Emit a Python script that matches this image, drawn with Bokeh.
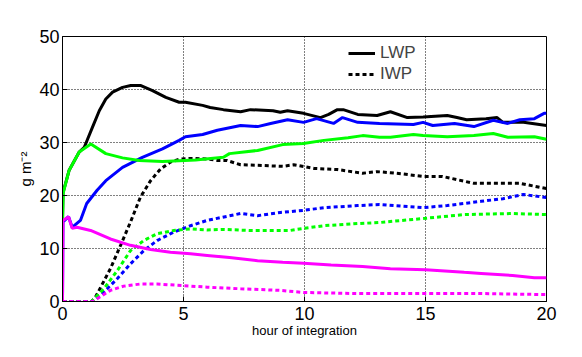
from bokeh.plotting import figure
from bokeh.models import Range1d, FixedTicker, Legend
from bokeh.embed import file_html
from bokeh.resources import INLINE

# ---- data (hours, g m^-2) ----
black_lwp_h = [0, 0.02, 0.27, 0.69, 0.9, 1.24, 1.52, 1.79, 2.07, 2.48, 2.82, 3.24, 3.72, 4.27, 4.82, 5.08, 5.79,
               6.1, 6.65, 7.36, 7.77, 8.7, 9.0, 9.3, 9.96, 10.66, 11.0, 11.36, 11.6, 12.2, 13.0, 13.55,
               14.25, 14.9, 15.9, 16.3, 16.7, 17.5, 17.96, 18.2, 19.05, 20]
black_lwp = [15, 20.5, 24.7, 28.2, 29.1, 32.9, 36.0, 38.2, 39.5, 40.4, 40.75, 40.75, 39.8, 38.5, 37.6, 37.6, 37.0,
             36.6, 36.2, 35.8, 36.2, 36.0, 35.7, 36.0, 35.5, 34.7, 35.3, 36.2, 36.2, 35.3, 35.1, 35.8,
             34.7, 34.8, 35.1, 34.7, 34.3, 34.5, 34.7, 33.8, 33.8, 33.2]

blue_lwp_h = [0, 0.02, 0.25, 0.4, 0.74, 1.0, 1.43, 1.79, 2.48, 3.3, 4.13, 4.82, 5.08, 5.79, 6.4, 7.36,
              8.06, 8.6, 9.3, 9.96, 10.5, 11.2, 11.57, 12.2, 13.1, 14.5, 14.9, 15.3, 16.2, 17.0, 17.8,
              18.4, 18.9, 19.5, 19.9, 20]
blue_lwp = [0, 15, 16, 14, 15.3, 18.5, 21, 22.8, 25.3, 27.2, 28.8, 30.4, 31.1, 31.5, 32.3, 33.2,
            33, 33.6, 34.3, 33.8, 34.5, 33.6, 34.7, 33.8, 33.6, 33.4, 33.8, 33.2, 33.6, 33, 34.2,
            33.6, 34.3, 34.5, 35.5, 35.5]

green_lwp_h = [0, 0.03, 0.27, 0.69, 1.17, 1.79, 2.48, 3.17, 4.13, 5.5, 6.65, 6.9, 8.06,
               9.1, 9.96, 10.8, 11.8, 12.4, 13.1, 13.55, 14.5, 14.9, 15.9, 17.0, 17.8, 18.4, 19.5, 20]
green_lwp = [15, 20.5, 24.7, 28.2, 29.7, 27.9, 27.1, 26.6, 26.4, 26.7, 27.2, 27.9, 28.5,
             29.6, 29.8, 30.4, 30.9, 31.3, 31.0, 31.0, 31.5, 31.3, 31.1, 31.3, 31.7, 31.0, 31.1, 30.6]

magenta_lwp_h = [0, 0.02, 0.25, 0.4, 0.6, 1.16, 1.98, 2.81, 3.64, 4.46, 5.29, 5.98, 6.9, 8.06, 9.1,
                 9.96, 11.1, 12.4, 13.55, 15.0, 16.6, 17.3, 18.6, 19.5, 20]
magenta_lwp = [0, 15.3, 16, 13.8, 14, 13.4, 11.8, 10.6, 9.8, 9.3, 9.0, 8.7, 8.3, 7.7, 7.4,
               7.2, 6.9, 6.6, 6.2, 6.0, 5.5, 5.3, 4.9, 4.5, 4.5]

black_iwp_h = [0, 1.2, 1.36, 1.98, 2.4, 2.81, 3.22, 3.64, 4.05, 4.46, 4.88, 5.3, 6.0, 6.4, 6.8, 7.36, 8.06,
               9.1, 9.55, 10.4, 11.36, 12.4, 13.0, 13.55, 14.0, 14.9, 15.7, 17.0, 18.0, 18.9, 20]
black_iwp = [0, 0, 0.8, 6.2, 10.6, 15.0, 19.7, 22.8, 25.0, 26.3, 26.9, 27.0, 26.9, 26.6, 26.6, 25.8, 25.7,
             25.5, 25.8, 25.1, 24.9, 24.2, 24.5, 24.3, 24.1, 23.6, 23.6, 22.3, 22.3, 22.3, 21.3]

blue_iwp_h = [0, 1.25, 1.71, 2.26, 2.81, 3.36, 3.91, 4.6, 5.29, 5.98, 7.36, 8.06, 9.0, 9.96,
              10.8, 12.2, 13.1, 14.9, 15.9, 17.3, 18.2, 19.05, 20]
blue_iwp = [0, 0, 1.8, 4.3, 7.1, 9.6, 11.5, 13.1, 14.3, 15.3, 16.6, 16.2, 16.8, 17.2,
            17.7, 18.1, 18.3, 17.7, 18.1, 18.9, 19.4, 20.2, 19.6]

green_iwp_h = [0, 1.2, 1.71, 2.26, 2.81, 3.36, 3.91, 4.6, 5.29, 5.98, 6.65, 7.77, 9.4, 9.96, 10.8,
               12.2, 13.1, 15.0, 16.6, 18.6, 20]
green_iwp = [0, 0, 2.4, 5.8, 9.6, 11.5, 12.8, 13.4, 13.7, 13.5, 13.6, 13.4, 13.4, 13.8, 14.3,
             14.7, 14.9, 15.7, 16.4, 16.6, 16.4]

magenta_iwp_h = [0, 1.25, 1.98, 2.53, 3.22, 3.91, 5.0, 5.98, 7.36, 9.0, 9.96, 12.2, 15.0, 17.3, 20]
magenta_iwp = [0, 0, 2.1, 2.9, 3.3, 3.3, 3.0, 2.7, 2.4, 2.1, 1.7, 1.5, 1.5, 1.5, 1.3]

x_ticks = [0, 5, 10, 15, 20]
y_ticks = [0, 10, 20, 30, 40, 50]

FONT = "Liberation Sans"
LW = 3
DASH = "4 3"

p = figure(width=582, height=357, output_backend="svg", toolbar_location=None,
           x_range=Range1d(0, 20), y_range=Range1d(0, 50),
           min_border_left=62, min_border_right=36, min_border_top=36, min_border_bottom=56)
p.background_fill_color = "white"
p.border_fill_color = "white"
p.outline_line_color = "black"
p.outline_line_width = 1
p.outline_line_alpha = 1

r_lwp = p.line(black_lwp_h, black_lwp, line_color="black", line_width=LW)
r_iwp = p.line(black_iwp_h, black_iwp, line_color="black", line_width=LW, line_dash=DASH)
p.line(blue_lwp_h, blue_lwp, line_color="#0000ff", line_width=LW)
p.line(green_lwp_h, green_lwp, line_color="#00ff00", line_width=LW)
p.line(blue_iwp_h, blue_iwp, line_color="#0000ff", line_width=LW, line_dash=DASH)
p.line(green_iwp_h, green_iwp, line_color="#00ff00", line_width=LW, line_dash=DASH)
p.line(magenta_lwp_h, magenta_lwp, line_color="#ff00ff", line_width=LW)
p.line(magenta_iwp_h, magenta_iwp, line_color="#ff00ff", line_width=LW, line_dash=DASH)

p.xaxis.ticker = FixedTicker(ticks=x_ticks)
p.yaxis.ticker = FixedTicker(ticks=y_ticks)
for ax in (p.xaxis, p.yaxis):
    ax.major_label_text_font = FONT
    ax.major_label_text_font_size = "18px"
    ax.major_label_text_color = "black"
    ax.axis_line_color = "black"
    ax.major_tick_line_color = "black"
    ax.major_tick_in = 5
    ax.major_tick_out = 0
    ax.minor_tick_line_color = None
    ax.axis_label_text_font = FONT
    ax.axis_label_text_font_style = "normal"
    ax.axis_label_text_color = "black"
p.xaxis.axis_label = "hour of integration"
p.xaxis.axis_label_text_font_size = "13px"
p.xaxis.major_label_standoff = 5
p.xaxis.axis_label_standoff = 0
p.yaxis.axis_label = "g m\u207b\u00b2"
p.yaxis.axis_label_text_font_size = "15px"
p.yaxis.major_label_standoff = 3
p.yaxis.axis_label_standoff = 2

for g in (p.xgrid, p.ygrid):
    g.grid_line_color = "black"
    g.grid_line_dash = "1 2"
    g.grid_line_width = 1
    g.grid_line_alpha = 1

legend = Legend(items=[("LWP", [r_lwp]), ("IWP", [r_iwp])], location=(286, 217))
legend.background_fill_alpha = 0
legend.border_line_alpha = 0
legend.label_text_font = FONT
legend.label_text_font_size = "17px"
legend.glyph_width = 27
legend.glyph_height = 20
legend.label_height = 20
legend.spacing = 1
legend.padding = 0
legend.margin = 0
legend.label_standoff = 5
p.add_layout(legend)

open("out.html", "w").write(file_html(p, INLINE))
